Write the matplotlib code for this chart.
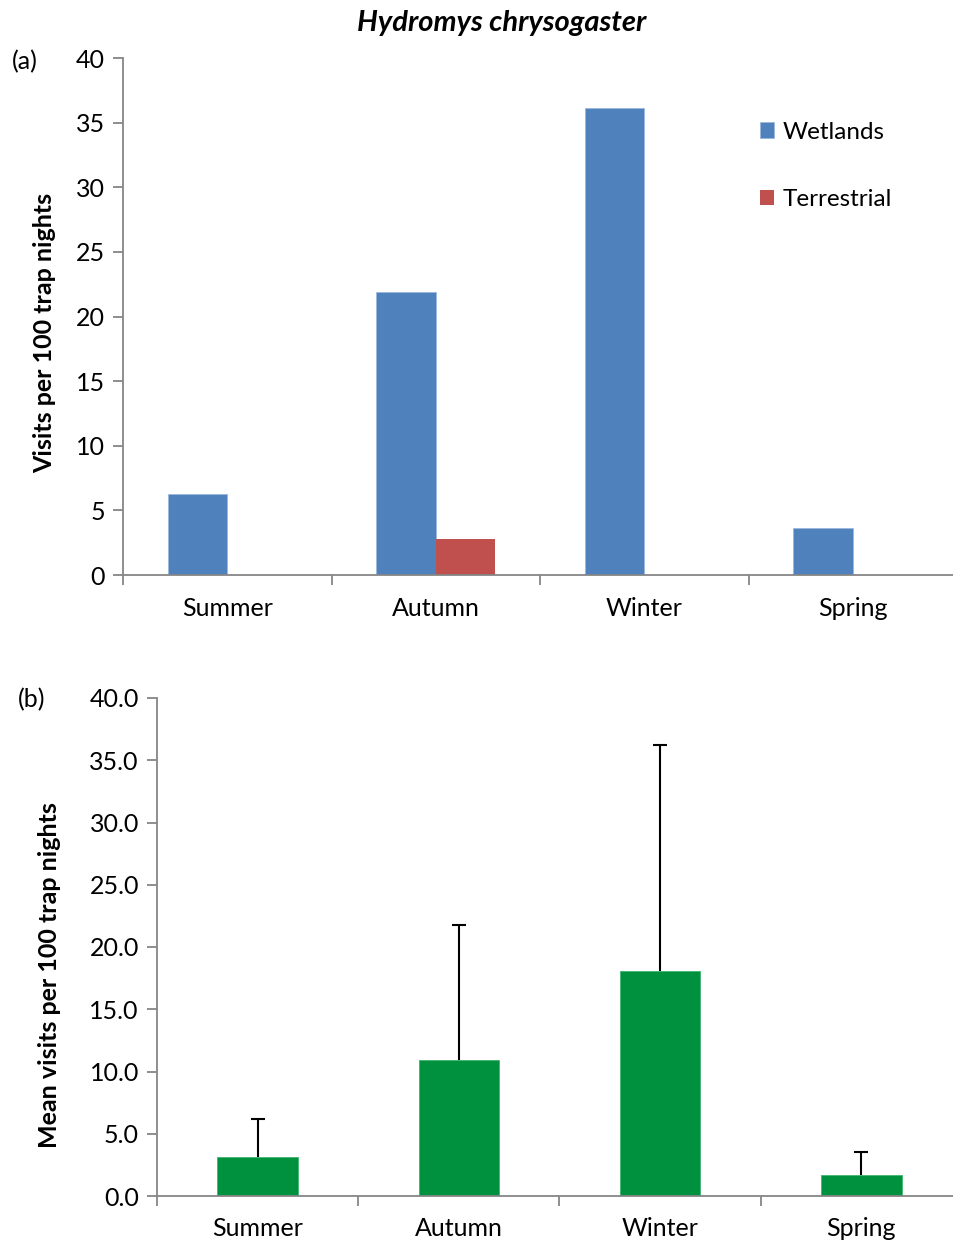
import matplotlib
matplotlib.use("Agg")
import matplotlib.pyplot as plt
import numpy as np

plt.rcParams['font.family'] = ['Lato', 'DejaVu Sans']

seasons = ["Summer", "Autumn", "Winter", "Spring"]
wetlands = [6.3, 21.9, 36.1, 3.6]
terrestrial = [0.0, 2.8, 0.0, 0.0]
mean_visits = [3.1, 10.9, 18.1, 1.7]
err_visits = [3.1, 10.9, 18.1, 1.85]
yticks_a = [0, 5, 10, 15, 20, 25, 30, 35, 40]
yticks_b = [0.0, 5.0, 10.0, 15.0, 20.0, 25.0, 30.0, 35.0, 40.0]

W, H = 954, 1243
fig = plt.figure(figsize=(W / 100, H / 100), dpi=100)

grey = "#868686"
blue = "#4F81BD"
red = "#C0504D"
green = "#00913F"
fs = 18

def style(ax):
    for s in ["top", "right"]:
        ax.spines[s].set_visible(False)
    for s in ["left", "bottom"]:
        ax.spines[s].set_color(grey)
        ax.spines[s].set_linewidth(1.3)
    ax.tick_params(axis="y", direction="out", length=7, width=1.3, color=grey,
                   labelsize=fs, pad=6)
    ax.tick_params(axis="x", which="major", length=0, labelsize=fs, pad=16)
    ax.tick_params(axis="x", which="minor", direction="out", length=7, width=1.3, color=grey)

# Panel (a)
axA = fig.add_axes([123 / W, (H - 575) / H, 834 / W, 517 / H])
x = np.arange(len(seasons))
bw = 0.285
axA.bar(x - bw / 2, wetlands, bw, color=blue, edgecolor="#9bb7dd", linewidth=0.6, label="Wetlands")
axA.bar(x + bw / 2, terrestrial, bw, color=red, linewidth=0, label="Terrestrial")
axA.set_xlim(-0.5, 3.5)
axA.set_ylim(0, 40)
axA.set_yticks(yticks_a)
axA.set_yticklabels([f"{v:g}" for v in yticks_a])
axA.set_xticks(x)
axA.set_xticklabels(seasons)
axA.set_xticks(np.arange(-0.5, 4.0, 1.0), minor=True)
style(axA)
leg = axA.legend(loc="upper left", bbox_to_anchor=(750 / W, 1 - 112 / H),
                 bbox_transform=fig.transFigure, frameon=False, fontsize=17.5,
                 handlelength=0.6, handleheight=0.6, handletextpad=0.35,
                 labelspacing=1.9, borderaxespad=0)

fig.text(45 / W, 1 - 333 / H, "Visits per 100 trap nights", rotation=90,
         ha="center", va="center", fontsize=fs, fontweight="bold")
fig.text(502 / W, 1 - 23 / H, "Hydromys chrysogaster", ha="center", va="center",
         fontsize=21, fontweight="bold", style="italic")
fig.text(25 / W, 1 - 62 / H, "(a)", ha="center", va="center", fontsize=fs)

# Panel (b)
axB = fig.add_axes([157 / W, (H - 1196) / H, 805 / W, 498 / H])
axB.bar(x, mean_visits, 0.4, color=green, edgecolor="#3fb56f", linewidth=0.6)
axB.errorbar(x, mean_visits, yerr=[np.zeros(len(err_visits)), err_visits],
             fmt="none", ecolor="black", elinewidth=1.5, capsize=0)
axB.plot(x, np.array(mean_visits) + np.array(err_visits), linestyle="none",
         marker="_", markersize=10, markeredgewidth=1.5, color="black")
axB.set_xlim(-0.5, 3.5)
axB.set_ylim(0, 40)
axB.set_yticks(yticks_b)
axB.set_yticklabels([f"{v:.1f}" for v in yticks_b])
axB.set_xticks(x)
axB.set_xticklabels(seasons)
axB.set_xticks(np.arange(-0.5, 4.0, 1.0), minor=True)
style(axB)
axB.tick_params(axis="x", which="major", pad=15)

fig.text(50 / W, 1 - 975 / H, "Mean visits per 100 trap nights", rotation=90,
         ha="center", va="center", fontsize=fs, fontweight="bold")
fig.text(32 / W, 1 - 700 / H, "(b)", ha="center", va="center", fontsize=fs)

fig.savefig("out.png", dpi=100)
